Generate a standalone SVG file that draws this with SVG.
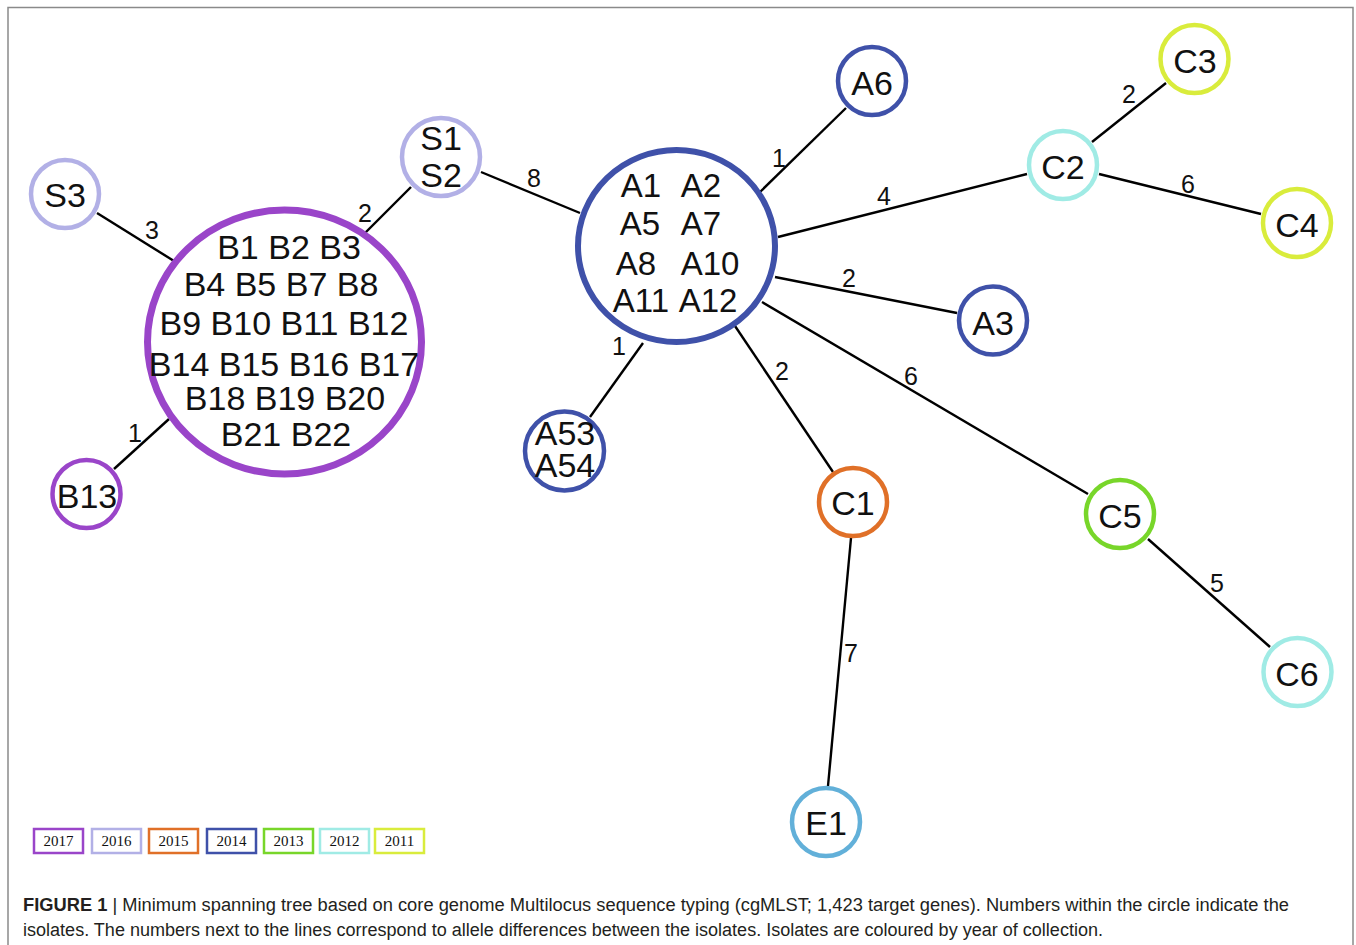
<svg xmlns="http://www.w3.org/2000/svg" width="1356" height="945" viewBox="0 0 1356 945">
<style>
.e{stroke:#000;stroke-width:2.4;fill:none}
.el{font-family:"Liberation Sans",Arial,sans-serif;font-size:25px;fill:#111;text-anchor:middle}
.n{fill:#fff;stroke-width:4.5}
.big{stroke-width:7}
.mid{stroke-width:6}
.nt{font-family:"Liberation Sans",Arial,sans-serif;font-size:34px;fill:#111;text-anchor:middle}
.nta{font-size:33px}
.y17{stroke:#9a45c9}.y16{stroke:#b2b0e6}.y15{stroke:#e07028}.y14{stroke:#3f51a9}.y13{stroke:#78d62a}.y12{stroke:#a0ebe5}.y11{stroke:#d9ec3c}.ye{stroke:#62b0d9}
.lg{fill:#fff;stroke-width:2.5}
.lt{font-family:"Liberation Serif","Times New Roman",serif;font-size:15px;fill:#111;text-anchor:middle}
.cap{font-family:"Liberation Sans",Arial,sans-serif;font-size:18px;fill:#231f20}
</style>
<rect x="0" y="0" width="1356" height="945" fill="#fff"/>
<rect x="8" y="7.5" width="1345" height="960" fill="none" stroke="#8a8a8a" stroke-width="1.5"/>
<g id="connectors">
<line class="e" x1="97" y1="213" x2="174" y2="261"/>
<line class="e" x1="411" y1="187" x2="364" y2="234"/>
<line class="e" x1="481" y1="172" x2="580" y2="213"/>
<line class="e" x1="169" y1="419" x2="114" y2="469"/>
<line class="e" x1="760" y1="192" x2="846" y2="108"/>
<line class="e" x1="778" y1="237" x2="1027" y2="174"/>
<line class="e" x1="1092" y1="142" x2="1166" y2="83"/>
<line class="e" x1="1099" y1="174" x2="1261" y2="214"/>
<line class="e" x1="775" y1="277" x2="957" y2="313"/>
<line class="e" x1="762" y1="302" x2="1088" y2="494"/>
<line class="e" x1="735" y1="326" x2="833" y2="472"/>
<line class="e" x1="643" y1="343" x2="590" y2="417"/>
<line class="e" x1="851" y1="538" x2="828" y2="786"/>
<line class="e" x1="1148" y1="539" x2="1270" y2="647"/>
<text class="el" x="152" y="239">3</text>
<text class="el" x="365" y="222">2</text>
<text class="el" x="534" y="187">8</text>
<text class="el" x="135" y="442">1</text>
<text class="el" x="779" y="167">1</text>
<text class="el" x="884" y="205">4</text>
<text class="el" x="1129" y="103">2</text>
<text class="el" x="1188" y="193">6</text>
<text class="el" x="849" y="287">2</text>
<text class="el" x="911" y="385">6</text>
<text class="el" x="782" y="380">2</text>
<text class="el" x="619" y="355">1</text>
<text class="el" x="851" y="662">7</text>
<text class="el" x="1217" y="592">5</text>
</g>
<g id="node-B">
<ellipse class="n big y17" cx="284.5" cy="342" rx="137" ry="132"/>
<text class="nt" x="289" y="259">B1 B2 B3</text>
<text class="nt" x="281" y="296">B4 B5 B7 B8</text>
<text class="nt" x="284" y="335">B9 B10 B11 B12</text>
<text class="nt" x="284" y="376">B14 B15 B16 B17</text>
<text class="nt" x="285" y="410">B18 B19 B20</text>
<text class="nt" x="286" y="446">B21 B22</text>
</g>
<g id="node-A">
<ellipse class="n mid y14" cx="676.5" cy="246" rx="98.5" ry="96"/>
<text class="nt nta"><tspan x="641" y="197">A1</tspan><tspan x="701" y="197">A2</tspan></text>
<text class="nt nta"><tspan x="640" y="235">A5</tspan><tspan x="701" y="235">A7</tspan></text>
<text class="nt nta"><tspan x="636" y="275">A8</tspan><tspan x="710" y="275">A10</tspan></text>
<text class="nt nta"><tspan x="641" y="312">A11</tspan><tspan x="708" y="312">A12</tspan></text>
</g>
<g id="node-S3"><circle class="n y16" cx="65" cy="194" r="34"/><text class="nt" x="65" y="207">S3</text></g>
<g id="node-S1S2"><circle class="n y16" cx="441" cy="157" r="39"/><text class="nt" x="441" y="150">S1</text><text class="nt" x="441" y="187">S2</text></g>
<g id="node-B13"><circle class="n y17" cx="86.5" cy="494" r="34"/><text class="nt" x="87" y="508">B13</text></g>
<g id="node-A6"><circle class="n y14" cx="872" cy="81" r="34"/><text class="nt" x="872" y="95">A6</text></g>
<g id="node-A3"><circle class="n y14" cx="993" cy="320.5" r="34"/><text class="nt" x="993" y="335">A3</text></g>
<g id="node-A53"><circle class="n y14" cx="564.5" cy="451" r="39.5"/><text class="nt" x="565" y="445">A53</text><text class="nt" x="565" y="477">A54</text></g>
<g id="node-C1"><circle class="n y15" cx="853" cy="502" r="34"/><text class="nt" x="853" y="515">C1</text></g>
<g id="node-C2"><circle class="n y12" cx="1063" cy="165" r="34"/><text class="nt" x="1063" y="179">C2</text></g>
<g id="node-C3"><circle class="n y11" cx="1194.5" cy="59" r="34"/><text class="nt" x="1195" y="73">C3</text></g>
<g id="node-C4"><circle class="n y11" cx="1297" cy="223" r="34"/><text class="nt" x="1297" y="237">C4</text></g>
<g id="node-C5"><circle class="n y13" cx="1120" cy="514" r="34"/><text class="nt" x="1120" y="528">C5</text></g>
<g id="node-C6"><circle class="n y12" cx="1297.5" cy="672" r="34"/><text class="nt" x="1297" y="686">C6</text></g>
<g id="node-E1"><circle class="n ye" cx="826" cy="822" r="34"/><text class="nt" x="826" y="835">E1</text></g>
<g id="legend">
<rect class="lg y17" x="34" y="829" width="49" height="24"/><text class="lt" x="58.5" y="846">2017</text>
<rect class="lg y16" x="92" y="829" width="49" height="24"/><text class="lt" x="116.5" y="846">2016</text>
<rect class="lg y15" x="149" y="829" width="49" height="24"/><text class="lt" x="173.5" y="846">2015</text>
<rect class="lg y14" x="207" y="829" width="49" height="24"/><text class="lt" x="231.5" y="846">2014</text>
<rect class="lg y13" x="264" y="829" width="49" height="24"/><text class="lt" x="288.5" y="846">2013</text>
<rect class="lg y12" x="320" y="829" width="49" height="24"/><text class="lt" x="344.5" y="846">2012</text>
<rect class="lg y11" x="375" y="829" width="49" height="24"/><text class="lt" x="399.5" y="846">2011</text>
</g>
<g id="caption">
<text class="cap" x="23" y="911" textLength="1266" lengthAdjust="spacingAndGlyphs"><tspan font-weight="bold">FIGURE 1</tspan>  |  Minimum spanning tree based on core genome Multilocus sequence typing (cgMLST; 1,423 target genes). Numbers within the circle indicate the</text>
<text class="cap" x="23" y="936" textLength="1080" lengthAdjust="spacingAndGlyphs">isolates. The numbers next to the lines correspond to allele differences between the isolates. Isolates are coloured by year of collection.</text>
</g>
</svg>
